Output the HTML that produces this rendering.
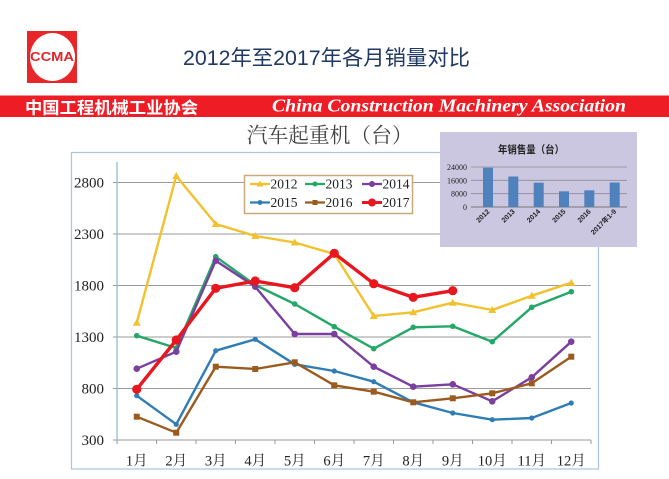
<!DOCTYPE html>
<html>
<head>
<meta charset="utf-8">
<style>
html,body{margin:0;padding:0;background:#fff;}
svg{display:block;}
.serif{font-family:"Liberation Serif","Noto Serif CJK SC",serif;}
.sans{font-family:"Liberation Sans","Noto Sans CJK SC",sans-serif;}
</style>
</head>
<body>
<svg width="669" height="479" viewBox="0 0 669 479" xmlns="http://www.w3.org/2000/svg">
<rect x="0" y="0" width="669" height="479" fill="#fff"/>

<!-- Logo -->
<rect x="27" y="31" width="50" height="52" fill="#E8262A"/>
<ellipse cx="52.5" cy="57" rx="22.5" ry="24" fill="#fff"/>
<text x="30" y="61" class="sans" font-size="12.5" font-weight="bold" fill="#E0262A" textLength="44" lengthAdjust="spacingAndGlyphs">CCMA</text>

<!-- Title -->
<text x="183" y="65" class="sans" font-size="21" fill="#1F3864" textLength="287" lengthAdjust="spacingAndGlyphs">2012年至2017年各月销量对比</text>

<!-- Red band -->
<rect x="0" y="95.5" width="669" height="21.5" fill="#EE1C25"/>
<text x="25" y="113.5" class="sans" font-size="16.5" font-weight="bold" fill="#fff" textLength="173" lengthAdjust="spacingAndGlyphs">中国工程机械工业协会</text>
<text x="272" y="111.7" font-family="'Liberation Serif',serif" font-style="italic" font-weight="bold" font-size="17.5" fill="#fff" textLength="354" lengthAdjust="spacingAndGlyphs">China Construction Machinery Association</text>

<!-- Chart title -->
<text x="246.7" y="142.5" class="serif" font-size="21" fill="#404040" textLength="166" lengthAdjust="spacingAndGlyphs">汽车起重机（台）</text>

<!-- Frame -->
<rect x="71.5" y="152.5" width="527" height="316.5" fill="#fff" stroke="#A9C4DC" stroke-width="1.2"/>

<!-- Gridlines -->
<g stroke="#9a9a9a" stroke-width="1">
<line x1="113" y1="182.5" x2="591" y2="182.5"/>
<line x1="113" y1="234" x2="591" y2="234"/>
<line x1="113" y1="285.5" x2="591" y2="285.5"/>
<line x1="113" y1="337" x2="591" y2="337"/>
<line x1="113" y1="388.5" x2="591" y2="388.5"/>
<line x1="113" y1="440" x2="591" y2="440"/>
</g>
<line x1="117" y1="162" x2="117" y2="440" stroke="#8DB4D6" stroke-width="1.2"/>
<g stroke="#999" stroke-width="1">
<line x1="117" y1="440" x2="117" y2="444"/>
<line x1="156.5" y1="440" x2="156.5" y2="444"/>
<line x1="196" y1="440" x2="196" y2="444"/>
<line x1="235.5" y1="440" x2="235.5" y2="444"/>
<line x1="275" y1="440" x2="275" y2="444"/>
<line x1="314.5" y1="440" x2="314.5" y2="444"/>
<line x1="354" y1="440" x2="354" y2="444"/>
<line x1="393.5" y1="440" x2="393.5" y2="444"/>
<line x1="433" y1="440" x2="433" y2="444"/>
<line x1="472.5" y1="440" x2="472.5" y2="444"/>
<line x1="512" y1="440" x2="512" y2="444"/>
<line x1="551.5" y1="440" x2="551.5" y2="444"/>
<line x1="591" y1="440" x2="591" y2="444"/>
</g>

<!-- Y labels -->
<g class="serif" font-size="15" fill="#222" text-anchor="end">
<text x="104" y="187.3">2800</text>
<text x="104" y="238.8">2300</text>
<text x="104" y="290.3">1800</text>
<text x="104" y="341.8">1300</text>
<text x="104" y="393.3">800</text>
<text x="104" y="444.8">300</text>
</g>

<!-- X labels -->
<g class="serif" font-size="14.5" fill="#222" text-anchor="middle">
<text x="136.75" y="465.5">1月</text>
<text x="176.25" y="465.5">2月</text>
<text x="215.75" y="465.5">3月</text>
<text x="255.25" y="465.5">4月</text>
<text x="294.75" y="465.5">5月</text>
<text x="334.25" y="465.5">6月</text>
<text x="373.75" y="465.5">7月</text>
<text x="413.25" y="465.5">8月</text>
<text x="452.75" y="465.5">9月</text>
<text x="492.25" y="465.5">10月</text>
<text x="531.75" y="465.5">11月</text>
<text x="571.25" y="465.5">12月</text>
</g>

<!-- 2012 -->
<polyline fill="none" stroke="#F2C12E" stroke-width="2.4" stroke-linejoin="round" points="136.75,322.7 176.25,176 215.75,224 255.25,236 294.75,242.5 334.25,254 373.75,316 413.25,312.3 452.75,302.7 492.25,310 531.75,295.7 571.25,282.7"/>
<g fill="#F2C12E">
<polygon points="136.75,318.7 132.75,325.7 140.75,325.7"/>
<polygon points="176.25,172 172.25,179 180.25,179"/>
<polygon points="215.75,220 211.75,227 219.75,227"/>
<polygon points="255.25,232 251.25,239 259.25,239"/>
<polygon points="294.75,238.5 290.75,245.5 298.75,245.5"/>
<polygon points="334.25,250 330.25,257 338.25,257"/>
<polygon points="373.75,312 369.75,319 377.75,319"/>
<polygon points="413.25,308.3 409.25,315.3 417.25,315.3"/>
<polygon points="452.75,298.7 448.75,305.7 456.75,305.7"/>
<polygon points="492.25,306 488.25,313 496.25,313"/>
<polygon points="531.75,291.7 527.75,298.7 535.75,298.7"/>
<polygon points="571.25,278.7 567.25,285.7 575.25,285.7"/>
</g>

<!-- 2013 -->
<polyline fill="none" stroke="#24A867" stroke-width="2.4" stroke-linejoin="round" points="136.75,335.7 176.25,348 215.75,256.7 255.25,285 294.75,304 334.25,326.7 373.75,348.7 413.25,327.3 452.75,326.3 492.25,341.7 531.75,307.3 571.25,291.7"/>
<g fill="#24A867">
<circle cx="136.75" cy="335.7" r="2.8"/><circle cx="176.25" cy="348" r="2.8"/><circle cx="215.75" cy="256.7" r="2.8"/><circle cx="255.25" cy="285" r="2.8"/><circle cx="294.75" cy="304" r="2.8"/><circle cx="334.25" cy="326.7" r="2.8"/><circle cx="373.75" cy="348.7" r="2.8"/><circle cx="413.25" cy="327.3" r="2.8"/><circle cx="452.75" cy="326.3" r="2.8"/><circle cx="492.25" cy="341.7" r="2.8"/><circle cx="531.75" cy="307.3" r="2.8"/><circle cx="571.25" cy="291.7" r="2.8"/>
</g>

<!-- 2014 -->
<polyline fill="none" stroke="#7B3FA0" stroke-width="2.4" stroke-linejoin="round" points="136.75,368.7 176.25,351.7 215.75,260.7 255.25,286.7 294.75,334 334.25,334 373.75,366.7 413.25,386.7 452.75,384.3 492.25,401.3 531.75,377.3 571.25,341.7"/>
<g fill="#7B3FA0">
<circle cx="136.75" cy="368.7" r="3.3"/><circle cx="176.25" cy="351.7" r="3.3"/><circle cx="215.75" cy="260.7" r="3.3"/><circle cx="255.25" cy="286.7" r="3.3"/><circle cx="294.75" cy="334" r="3.3"/><circle cx="334.25" cy="334" r="3.3"/><circle cx="373.75" cy="366.7" r="3.3"/><circle cx="413.25" cy="386.7" r="3.3"/><circle cx="452.75" cy="384.3" r="3.3"/><circle cx="492.25" cy="401.3" r="3.3"/><circle cx="531.75" cy="377.3" r="3.3"/><circle cx="571.25" cy="341.7" r="3.3"/>
</g>

<!-- 2015 -->
<polyline fill="none" stroke="#2E7DB5" stroke-width="2.4" stroke-linejoin="round" points="136.75,395.7 176.25,424.3 215.75,350.7 255.25,339.3 294.75,364.3 334.25,371 373.75,381.7 413.25,402.3 452.75,413 492.25,419.7 531.75,418 571.25,403"/>
<g fill="#2E7DB5">
<circle cx="136.75" cy="395.7" r="2.6"/><circle cx="176.25" cy="424.3" r="2.6"/><circle cx="215.75" cy="350.7" r="2.6"/><circle cx="255.25" cy="339.3" r="2.6"/><circle cx="294.75" cy="364.3" r="2.6"/><circle cx="334.25" cy="371" r="2.6"/><circle cx="373.75" cy="381.7" r="2.6"/><circle cx="413.25" cy="402.3" r="2.6"/><circle cx="452.75" cy="413" r="2.6"/><circle cx="492.25" cy="419.7" r="2.6"/><circle cx="531.75" cy="418" r="2.6"/><circle cx="571.25" cy="403" r="2.6"/>
</g>

<!-- 2016 -->
<polyline fill="none" stroke="#9B5B1E" stroke-width="2.4" stroke-linejoin="round" points="136.75,416.7 176.25,432.7 215.75,366.7 255.25,369 294.75,362.3 334.25,385.3 373.75,391.7 413.25,402.3 452.75,398.3 492.25,393.3 531.75,383.3 571.25,356.7"/>
<g fill="#9B5B1E">
<rect x="133.75" y="413.7" width="6" height="6"/><rect x="173.25" y="429.7" width="6" height="6"/><rect x="212.75" y="363.7" width="6" height="6"/><rect x="252.25" y="366" width="6" height="6"/><rect x="291.75" y="359.3" width="6" height="6"/><rect x="331.25" y="382.3" width="6" height="6"/><rect x="370.75" y="388.7" width="6" height="6"/><rect x="410.25" y="399.3" width="6" height="6"/><rect x="449.75" y="395.3" width="6" height="6"/><rect x="489.25" y="390.3" width="6" height="6"/><rect x="528.75" y="380.3" width="6" height="6"/><rect x="568.25" y="353.7" width="6" height="6"/>
</g>

<!-- 2017 -->
<polyline fill="none" stroke="#E8161E" stroke-width="3.4" stroke-linejoin="round" points="136.75,389.3 176.25,340 215.75,288.3 255.25,281 294.75,287.7 334.25,253.3 373.75,283.7 413.25,297.3 452.75,290.7"/>
<g fill="#E8161E">
<circle cx="136.75" cy="389.3" r="4.6"/><circle cx="176.25" cy="340" r="4.6"/><circle cx="215.75" cy="288.3" r="4.6"/><circle cx="255.25" cy="281" r="4.6"/><circle cx="294.75" cy="287.7" r="4.6"/><circle cx="334.25" cy="253.3" r="4.6"/><circle cx="373.75" cy="283.7" r="4.6"/><circle cx="413.25" cy="297.3" r="4.6"/><circle cx="452.75" cy="290.7" r="4.6"/>
</g>

<!-- Legend -->
<rect x="244.5" y="175.5" width="168" height="38" fill="#fff" stroke="#C9A97A" stroke-width="1.5"/>
<g stroke-width="2.2">
<line x1="250" y1="184" x2="270" y2="184" stroke="#F2C12E"/>
<line x1="305" y1="184" x2="325" y2="184" stroke="#24A867"/>
<line x1="362" y1="184" x2="382" y2="184" stroke="#7B3FA0"/>
<line x1="250" y1="202.5" x2="270" y2="202.5" stroke="#2E7DB5"/>
<line x1="305" y1="202.5" x2="325" y2="202.5" stroke="#9B5B1E"/>
<line x1="362" y1="202.5" x2="382" y2="202.5" stroke="#E8161E" stroke-width="3"/>
</g>
<polygon points="260,180.5 256.5,186.5 263.5,186.5" fill="#F2C12E"/>
<circle cx="315" cy="184" r="2.5" fill="#24A867"/>
<circle cx="372" cy="184" r="3" fill="#7B3FA0"/>
<circle cx="260" cy="202.5" r="2.4" fill="#2E7DB5"/>
<rect x="312.5" y="200" width="5" height="5" fill="#9B5B1E"/>
<circle cx="372" cy="202.5" r="4" fill="#E8161E"/>
<g class="serif" font-size="13.5" fill="#222">
<text x="270.5" y="188.5">2012</text>
<text x="325.5" y="188.5">2013</text>
<text x="382.5" y="188.5">2014</text>
<text x="270.5" y="207">2015</text>
<text x="325.5" y="207">2016</text>
<text x="382.5" y="207">2017</text>
</g>

<!-- Inset chart -->
<rect x="440" y="132" width="197" height="115" fill="#CCC7E1"/>
<text x="531" y="153" text-anchor="middle" class="sans" font-size="10.5" font-weight="bold" fill="#222" textLength="66" lengthAdjust="spacingAndGlyphs">年销售量（台）</text>
<g stroke="#8a8a9a" stroke-width="0.8">
<line x1="471" y1="167" x2="627" y2="167"/>
<line x1="471" y1="180.3" x2="627" y2="180.3"/>
<line x1="471" y1="193.7" x2="627" y2="193.7"/>
</g>
<line x1="471" y1="207" x2="627" y2="207" stroke="#777" stroke-width="1"/>
<g class="serif" font-size="8" fill="#222" text-anchor="end">
<text x="467" y="170">24000</text>
<text x="467" y="183.3">16000</text>
<text x="467" y="196.7">8000</text>
<text x="467" y="210">0</text>
</g>
<g fill="#4F81BD">
<rect x="483" y="167.7" width="10" height="39.3"/>
<rect x="508.3" y="176.5" width="10" height="30.5"/>
<rect x="533.7" y="182.7" width="10" height="24.3"/>
<rect x="559" y="191.3" width="10" height="15.7"/>
<rect x="584.3" y="190.3" width="10" height="16.7"/>
<rect x="609.7" y="182.5" width="10" height="24.5"/>
</g>
<g class="sans" font-size="7" font-weight="bold" fill="#222" text-anchor="end">
<text transform="translate(490,212) rotate(-45)">2012</text>
<text transform="translate(515.3,212) rotate(-45)">2013</text>
<text transform="translate(540.7,212) rotate(-45)">2014</text>
<text transform="translate(566,212) rotate(-45)">2015</text>
<text transform="translate(591.3,212) rotate(-45)">2016</text>
<text transform="translate(616.7,212) rotate(-45)">2017年1-9</text>
</g>
</svg>
</body>
</html>
